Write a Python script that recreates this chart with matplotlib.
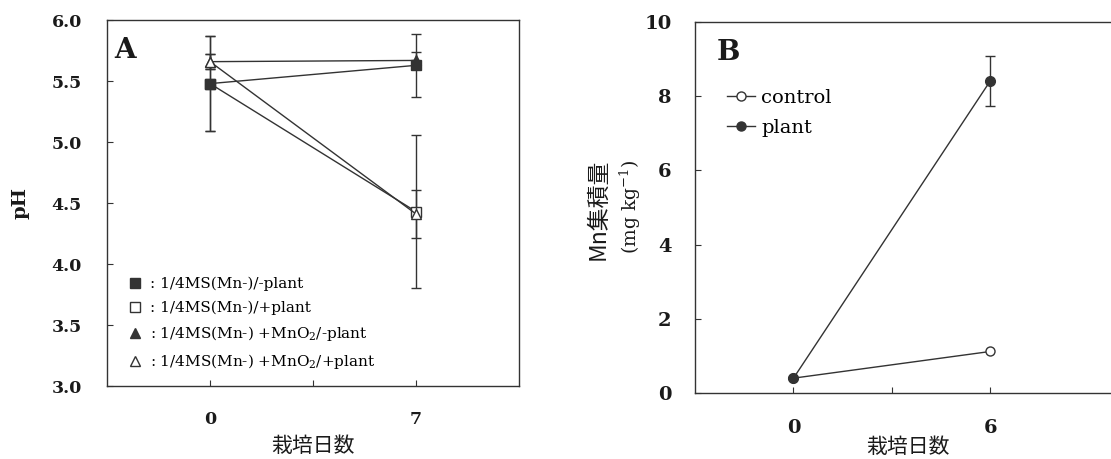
import matplotlib
matplotlib.use("Agg")
import matplotlib.pyplot as plt
from matplotlib.lines import Line2D

plt.rcParams['font.family'] = ['DejaVu Serif']
plt.rcParams['mathtext.fontset'] = 'dejavuserif'

# ---------- Data ----------
days_a = [0, 7]
ph_mn_noplant = [5.48, 5.63]
ph_mn_noplant_err = [0.39, 0.26]
ph_mn_plant = [5.48, 4.43]
ph_mn_plant_err = [0.39, 0.63]
ph_mno2_noplant = [5.66, 5.67]
ph_mno2_noplant_err = [0.06, 0.07]
ph_mno2_plant = [5.66, 4.41]
ph_mno2_plant_err = [0.06, 0.20]

labels_a = [": 1/4MS(Mn-)/-plant",
            ": 1/4MS(Mn-)/+plant",
            ": 1/4MS(Mn-) +MnO$_2$/-plant",
            ": 1/4MS(Mn-) +MnO$_2$/+plant"]

days_b = [0, 6]
mn_control = [0.40, 1.12]
mn_plant = [0.40, 8.42]
mn_plant_err = [0.0, 0.68]
labels_b = ["control", "plant"]

xlabel = "栽培日数"
cjk = ['Noto Sans CJK JP', 'DejaVu Sans']

LC = '#333333'
TC = '#1a1a1a'

fig = plt.figure(figsize=(11.11, 4.59), dpi=100)

# ---------- Panel A ----------
axA = fig.add_axes([0.0963, 0.159, 0.371, 0.797])
series = [
    (ph_mn_noplant, ph_mn_noplant_err, 's', LC, 4),
    (ph_mn_plant, ph_mn_plant_err, 's', 'white', 3),
    (ph_mno2_noplant, ph_mno2_noplant_err, '^', LC, 3),
    (ph_mno2_plant, ph_mno2_plant_err, '^', 'white', 5),
]
for vals, err, m, fc, z in series:
    axA.errorbar(days_a, vals, yerr=err, color=LC, lw=1.0, elinewidth=1.0,
                 capsize=3.5, capthick=1.0, marker=m, ms=7.5, mfc=fc, mec=LC,
                 mew=1.0, zorder=z)

axA.set_xlim(-3.5, 10.5)
axA.set_ylim(3.0, 6.0)
axA.set_xticks([0, 3.5, 7])
axA.set_xticklabels(['0', '', '7'])
axA.set_yticks([3.0, 3.5, 4.0, 4.5, 5.0, 5.5, 6.0])
axA.set_yticklabels(['3.0', '3.5', '4.0', '4.5', '5.0', '5.5', '6.0'])
axA.tick_params(axis='both', direction='in', length=4, width=0.8, colors=LC,
                labelsize=12.5, labelcolor=TC)
axA.tick_params(axis='y', pad=18)
axA.tick_params(axis='x', pad=18)
for lab in axA.get_xticklabels() + axA.get_yticklabels():
    lab.set_fontweight('bold')
for s in axA.spines.values():
    s.set_color(LC)
    s.set_linewidth(1.0)
axA.set_ylabel("pH", fontsize=14, fontweight='bold', color=TC, labelpad=16)
axA.set_xlabel(xlabel, fontsize=15, family=cjk, color=TC, labelpad=5)
axA.text(0.017, 0.955, "A", transform=axA.transAxes, fontsize=20,
         fontweight='bold', va='top', ha='left', color=TC)

handles_a = [Line2D([], [], ls='none', marker=m, ms=7.5, mfc=fc, mec=LC, mew=1.0)
             for _, _, m, fc, _ in series]
axA.legend(handles_a, labels_a, loc='lower left', bbox_to_anchor=(0.05, 0.04),
           frameon=False, fontsize=11, handlelength=1.0, handletextpad=0.45,
           labelspacing=0.6, borderpad=0, borderaxespad=0)

# ---------- Panel B ----------
axB = fig.add_axes([0.6256, 0.1438, 0.384, 0.808])
axB.plot(days_b, mn_control, color=LC, lw=1.0, marker='o', ms=6.5, mfc='white',
         mec=LC, mew=1.0, zorder=3)
axB.errorbar(days_b, mn_plant, yerr=mn_plant_err, color=LC, lw=1.0,
             elinewidth=1.0, capsize=3.5, capthick=1.0, marker='o', ms=7,
             mfc=LC, mec=LC, zorder=4)
axB.set_xlim(-3, 10)
axB.set_ylim(0, 10)
axB.set_xticks([0, 3, 6])
axB.set_xticklabels(['0', '', '6'])
axB.set_yticks([0, 2, 4, 6, 8, 10])
axB.tick_params(axis='both', direction='in', length=4, width=0.8, colors=LC,
                labelsize=14, labelcolor=TC)
axB.tick_params(axis='y', pad=17)
axB.tick_params(axis='x', pad=19)
for lab in axB.get_xticklabels() + axB.get_yticklabels():
    lab.set_fontweight('bold')
for s in axB.spines.values():
    s.set_color(LC)
    s.set_linewidth(1.0)
axB.set_xlabel(xlabel, fontsize=15, family=cjk, color=TC, labelpad=-1)
axB.text(0.05, 0.955, "B", transform=axB.transAxes, fontsize=20,
         fontweight='bold', va='top', ha='left', color=TC)

handles_b = [Line2D([], [], color=LC, lw=1.0, marker='o', ms=6.5, mfc='white', mec=LC),
             Line2D([], [], color=LC, lw=1.0, marker='o', ms=6.5, mfc=LC, mec=LC)]
axB.legend(handles_b, labels_b, loc='upper left', bbox_to_anchor=(0.075, 0.82),
           frameon=False, fontsize=14, handlelength=1.45, handletextpad=0.3,
           labelspacing=0.6, borderpad=0, borderaxespad=0)

fig.text(598 / 1111, 1 - 209 / 459, "Mn集積量", rotation=90, family=cjk,
         fontsize=16.5, ha='center', va='center', color=TC)
fig.text(630 / 1111, 1 - 207 / 459, "(mg kg$^{-1}$)", rotation=90,
         fontsize=13.5, ha='center', va='center', color=TC)

fig.savefig("out.png", dpi=100)
